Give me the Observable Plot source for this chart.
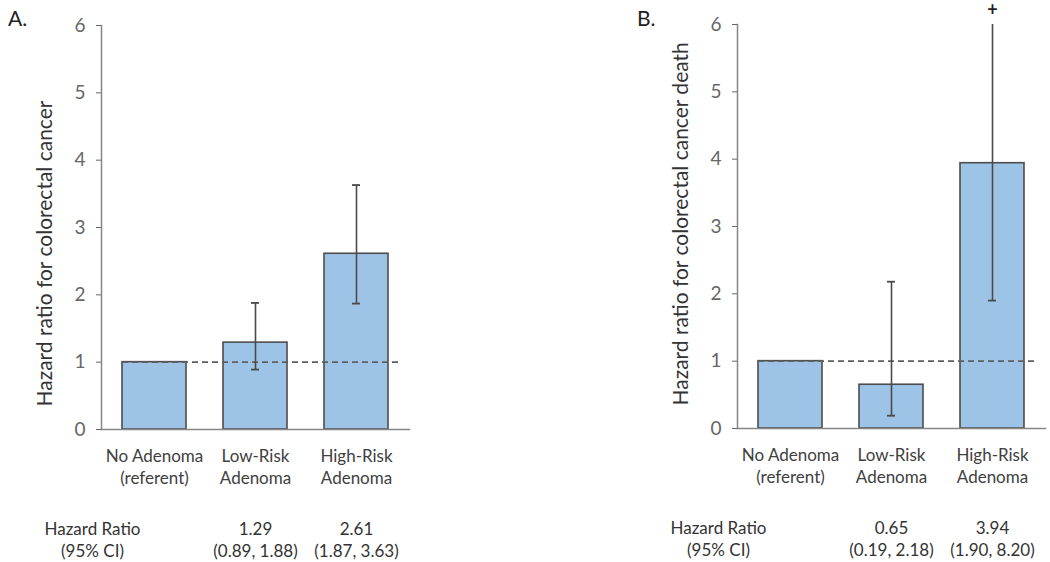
<!DOCTYPE html>
<html>
<head>
<meta charset="utf-8">
<script src="https://cdn.jsdelivr.net/npm/d3@7"></script>
<script src="https://cdn.jsdelivr.net/npm/@observablehq/plot@0.6"></script>
<style>
  html, body { margin: 0; padding: 0; background: #fff; overflow: hidden; }
  #wrap { position: relative; width: 1050px; height: 562px; font-family: Lato, "Open Sans", sans-serif; }
  .panel { position: absolute; top: 0; z-index: 1; }
  .tag { position: absolute; z-index: 2; font-size: 21px; color: #222; font-family: Lato, "Open Sans", sans-serif; }
</style>
</head>
<body>
<div id="wrap">
  <div class="panel" id="pA" style="left:0px;"></div>
  <div class="panel" id="pB" style="left:636px; top:-1px;"></div>
  <div class="tag" style="left:8px; top:5px;">A.</div>
  <div class="tag" style="left:637px; top:5px;">B.</div>
</div>
<script>
// ---- data ----
const categories = ["No Adenoma\n(referent)", "Low-Risk\nAdenoma", "High-Risk\nAdenoma"];

const hrA   = [1, 1.29, 2.61];
const lowA  = [null, 0.89, 1.87];
const highA = [null, 1.88, 3.63];

const hrB   = [1, 0.65, 3.94];
const lowB  = [null, 0.19, 1.90];
const highB = [null, 2.18, 8.20];

const yTicks = [0, 1, 2, 3, 4, 5, 6];
const referentLine = [1];
const tableHeader = "Hazard Ratio\n(95% CI)";
const labelA = "Hazard ratio for colorectal cancer";
const labelB = "Hazard ratio for colorectal cancer death";

const fmt = d3.format(".2f");

function buildRows(hr, low, high) {
  return categories.map((c, i) => ({
    cat: c, hr: hr[i], low: low[i], high: high[i],
    table: low[i] == null ? "" : `${fmt(hr[i])}\n(${fmt(low[i])}, ${fmt(high[i])})`
  }));
}

function panel(hr, low, high, yLabel, headerDx) {
  const rows = buildRows(hr, low, high);
  const withCI = rows.filter(d => d.low != null);
  const yMax = d3.max(yTicks);
  const over = withCI.filter(d => d.high > yMax);
  return Plot.plot({
    width: 413,
    height: 562,
    marginLeft: 101,
    marginRight: 4,
    marginTop: 25,
    marginBottom: 133,
    style: { fontFamily: "Lato, 'Open Sans', sans-serif", fontSize: "17px", background: "transparent", overflow: "visible" },
    x: { domain: categories, paddingInner: 0.37, paddingOuter: 0.2, label: null },
    y: { domain: [0, yMax], label: null },
    marks: [
      Plot.barY(rows, { x: "cat", y: "hr", fill: "#9DC3E6", stroke: "#4d4d4d", strokeWidth: 1.6 }),
      Plot.ruleY(referentLine, { x1: () => categories[0], x2: () => categories[2], insetRight: -14,
        stroke: "#5f5f5f", strokeWidth: 1.9, strokeDasharray: "6,4" }),
      Plot.ruleX(withCI, { x: "cat", y1: "low", y2: "high", stroke: "#4a4a4a", strokeWidth: 1.6, clip: true }),
      Plot.tickY(withCI, { x: "cat", y: "low", stroke: "#4a4a4a", strokeWidth: 1.8, inset: 28, clip: true }),
      Plot.tickY(withCI, { x: "cat", y: "high", stroke: "#4a4a4a", strokeWidth: 1.8, inset: 28, clip: true }),
      Plot.text(over, { x: "cat", y: () => yMax, text: () => "+", dy: -14, fontSize: 18, fontWeight: "bold", fill: "#222" }),
      Plot.frame({ anchor: "left", stroke: "#868686", strokeWidth: 1.5 }),
      Plot.frame({ anchor: "bottom", stroke: "#868686", strokeWidth: 1.5 }),
      Plot.axisY({ ticks: yTicks, tickFormat: "d", tickSize: 5, tickPadding: 11, fontSize: 19, color: "#666", label: null }),
      Plot.axisX({ tickSize: 0, tickPadding: 17, fontSize: 17, lineHeight: 1.3, color: "#404040", label: null }),
      Plot.text([yLabel], { frameAnchor: "bottom-left", rotate: -90, textAnchor: "start", dx: -50, dy: -23,
        fontSize: 21, fill: "#333" }),
      Plot.text(rows, { x: "cat", text: "table", frameAnchor: "bottom", lineAnchor: "top", dy: 90,
        lineHeight: 1.3, fontSize: 17, fill: "#333" }),
      Plot.text([tableHeader], { frameAnchor: "bottom-left", textAnchor: "middle", lineAnchor: "top", dx: headerDx, dy: 90,
        lineHeight: 1.3, fontSize: 17, fill: "#333" })
    ]
  });
}

document.getElementById("pA").appendChild(panel(hrA, lowA, highA, labelA, -9));
document.getElementById("pB").appendChild(panel(hrB, lowB, highB, labelB, -19));
</script>
</body>
</html>
